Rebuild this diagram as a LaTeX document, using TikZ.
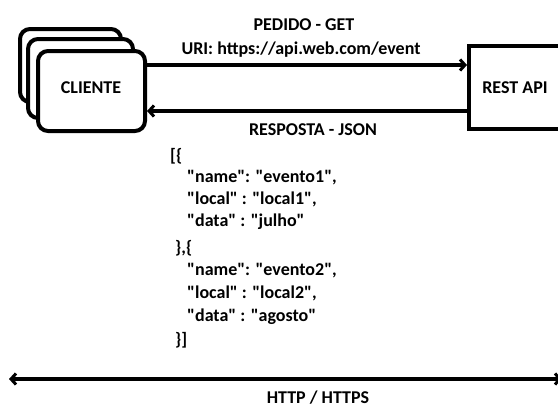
\documentclass[tikz,border=0pt]{standalone}
\usepackage{fontspec}
\newfontfamily\jfont{Carlito}
\usetikzlibrary{arrows.meta}
\newcommand\qq{\symbol{34}}
\begin{document}
\begin{tikzpicture}[x=1pt,y=-1pt,
  box/.style={draw,line width=4pt,fill=white},
  rbox/.style={box,rounded corners=10pt},
  lbl/.style={font=\jfont\fontsize{18}{21}\selectfont\bfseries,inner sep=0pt,anchor=base},
  jline/.style={font=\jfont\fontsize{18}{21}\selectfont\bfseries,inner sep=0pt,anchor=base west},
  conn/.style={line width=3.5pt,-{Straight Barb[length=5pt,width=11pt,line width=3pt]}},
  both/.style={line width=3.5pt,{Straight Barb[length=5pt,width=11pt,line width=3pt]}-{Straight Barb[length=5pt,width=11pt,line width=3pt]}}]
\useasboundingbox (0,0) rectangle (558,407);
% client stack
\draw[rbox] (20,29) rectangle (121,102);
\draw[rbox] (28,39) rectangle (133,118);
\draw[rbox] (38,51) rectangle (145,131);
\node[lbl] (cliente) at (91,93) {CLIENTE};
\coordinate (cl1) at (147,65);
\coordinate (cl2) at (147,111);
% rest api
\draw[box] (469,46) rectangle (575,129);
\node[lbl] (rest) at (515,93) {REST API};
\coordinate (ra1) at (467,65);
\coordinate (ra2) at (467,111);
% arrows
\draw[conn] (cl1) -- (ra1);
\draw[conn] (ra2) -- (cl2);
\node[lbl] (pedido) at (304,30) {PEDIDO - GET};
\node[lbl] (uri) at (301,54) {URI: https://api.web.com/event};
\node[lbl] (resp) at (313,135) {RESPOSTA - JSON};
% json
\node[jline] (j1) at (170,161) {[\{};
\node[jline] (j2) at (187,182) {\qq name\qq: \qq evento1\qq,};
\node[jline] (j3) at (187,204) {\qq local\qq{} : \qq local1\qq,};
\node[jline] (j4) at (187,226) {\qq data\qq{} : \qq julho\qq};
\node[jline] (j5) at (175,253) {\},\{};
\node[jline] (j6) at (187,275) {\qq name\qq: \qq evento2\qq,};
\node[jline] (j7) at (187,298) {\qq local\qq{} : \qq local2\qq,};
\node[jline] (j8) at (187,321) {\qq data\qq{} : \qq agosto\qq};
\node[jline] (j9) at (175,345) {\}]};
% http line
\coordinate (hl) at (9,379);
\coordinate (hr) at (562,379);
\draw[both] (hl) -- (hr);
\node[lbl] (http) at (318,403.5) {HTTP / HTTPS};
\end{tikzpicture}
\end{document}
